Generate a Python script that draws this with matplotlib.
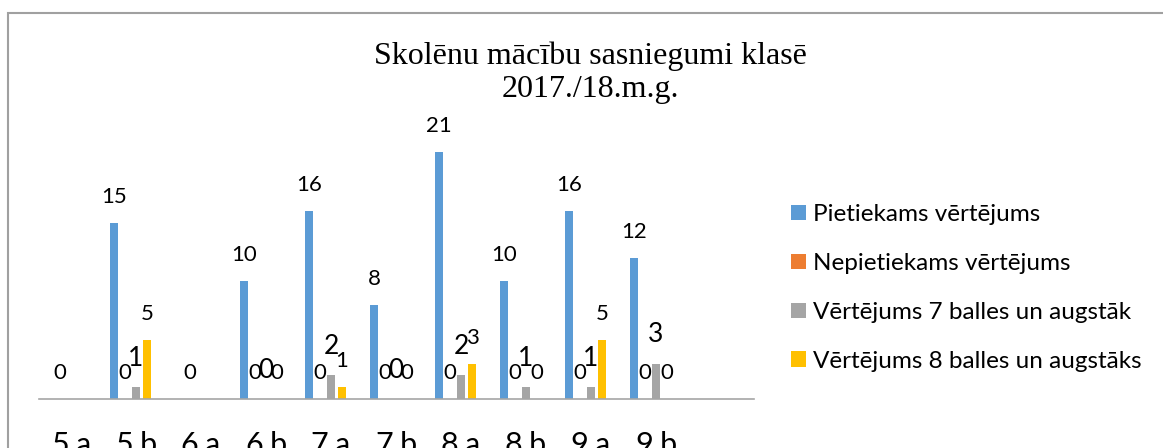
import numpy as np
import matplotlib.pyplot as plt
from matplotlib.patches import Rectangle

plt.rcParams['font.family'] = ['Lato', 'DejaVu Sans']

classes = ['5.a', '5.b', '6.a', '6.b', '7.a', '7.b', '8.a', '8.b', '9.a', '9.b', '']
nan = np.nan
pietiekams = [nan, 15, nan, 10, 16, 8, 21, 10, 16, 12, nan]
nepietiekams = [0, 0, 0, 0, 0, 0, 0, 0, 0, 0, nan]
virs7 = [nan, 1, nan, 0, 2, 0, 2, 1, 1, 3, nan]
virs8 = [nan, 5, nan, 0, 1, 0, 3, 0, 5, 0, nan]

series = [
    ('Pietiekams vērtējums', pietiekams, '#5B9BD5', 16),
    ('Nepietiekams vērtējums', nepietiekams, '#ED7D31', 16),
    ('Vērtējums 7 balles un augstāk', virs7, '#A5A5A5', 19),
    ('Vērtējums 8 balles un augstāks', virs8, '#FFC000', 16),
]

W, H = 1163, 448
fig = plt.figure(figsize=(W / 100, H / 100), dpi=100)
ax = fig.add_axes([38.5 / W, (H - 399) / H, 715 / W, 294 / H])

x = np.arange(len(classes))
step = 11 / 65
bw = 8 / 65
for i, (name, vals, col, fs) in enumerate(series):
    v = np.array(vals, dtype=float)
    pos = x + (i - 2) * step
    ax.bar(pos, np.nan_to_num(v), width=bw, color=col, label=name)
    for px, val in zip(pos, v):
        if np.isnan(val):
            continue
        off = 29 if i == 2 else 26
        ax.annotate(str(int(val)), (px, val), xytext=(0, off * 0.72),
                    textcoords='offset points', ha='center', va='center',
                    fontsize=fs)

ax.set_xlim(-0.5, len(classes) - 0.5)
ax.set_ylim(0, 25)
ax.set_yticks([])
ax.set_xticks(x)
ax.set_xticklabels(classes, fontsize=22)
ax.tick_params(axis='x', length=0, pad=23)
for s in ['top', 'left', 'right']:
    ax.spines[s].set_visible(False)
ax.spines['bottom'].set_color('#A6A6A6')
ax.spines['bottom'].set_linewidth(1.2)

fig.text(590 / W, 1 - 73 / H, 'Skolēnu mācību sasniegumi klasē\n2017./18.m.g.',
         ha='center', va='center', fontsize=23, family='Liberation Serif',
         linespacing=1.2)

ax.legend(loc='center left', bbox_to_anchor=(791 / W, 1 - 288 / H),
          bbox_transform=fig.transFigure, frameon=False, fontsize=17.5,
          handlelength=0.62, handleheight=0.62, handletextpad=0.3,
          labelspacing=1.15, borderpad=0, borderaxespad=0)

fig.patches.append(Rectangle((8 / W, -0.1), 1.2, 1 - 13 / H + 0.1,
                             transform=fig.transFigure, fill=False,
                             edgecolor='#A0A0A0', linewidth=1.5))

fig.savefig('out.png', dpi=100)
